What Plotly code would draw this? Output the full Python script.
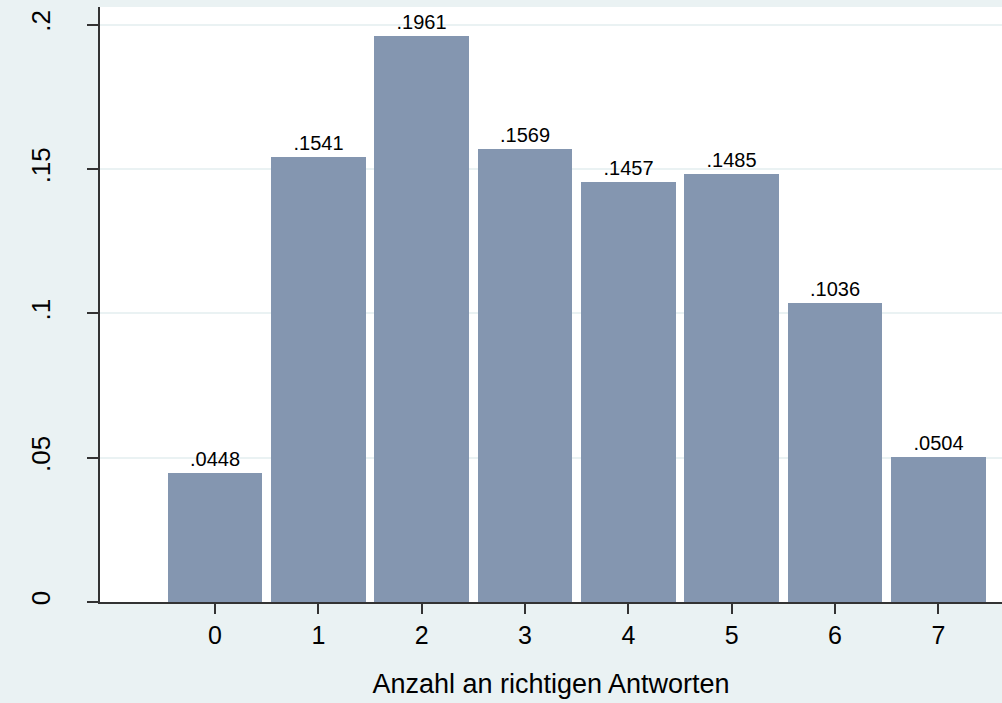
import plotly.graph_objects as go

categories = [0, 1, 2, 3, 4, 5, 6, 7]
values = [0.0448, 0.1541, 0.1961, 0.1569, 0.1457, 0.1485, 0.1036, 0.0504]
y_tickvals = [0, 0.05, 0.1, 0.15, 0.2]
y_ticktext = ["0", ".05", ".1", ".15", ".2"]
x_title = "Anzahl an richtigen Antworten"

labels = [f"{v:.4f}".lstrip("0") for v in values]

BG = "#eaf2f3"
BAR = "#8496b0"
AX = "#333333"
FONT = "Liberation Sans, Arial, sans-serif"

fig = go.Figure(go.Bar(
    x=categories, y=values, width=0.915,
    marker=dict(color=BAR, line=dict(width=0)),
    text=labels, textposition="outside", cliponaxis=False,
    textfont=dict(size=20, color="black", family=FONT),
))

fig.update_layout(
    width=1002, height=703,
    paper_bgcolor=BG, plot_bgcolor="white",
    margin=dict(l=100, r=0, t=7, b=101, autoexpand=False),
    font=dict(family=FONT, color="black"),
    showlegend=False,
    bargap=0,
)
fig.update_xaxes(
    range=[-1.113, 7.616], tickvals=categories,
    ticks="outside", ticklen=10, tickwidth=1.5, tickcolor=AX,
    showline=True, linecolor=AX, linewidth=2,
    showgrid=False, zeroline=False,
    tickfont=dict(size=25),
    title=dict(text=x_title, font=dict(size=27), standoff=26),
)
fig.update_yaxes(
    range=[0, 0.2062], tickvals=y_tickvals, ticktext=y_ticktext,
    tickangle=-90,
    ticks="outside", ticklen=11, tickwidth=1.5, tickcolor=AX,
    showline=True, linecolor=AX, linewidth=2,
    showgrid=True, gridcolor=BG, gridwidth=1.5, zeroline=False,
    tickfont=dict(size=26),
    ticklabelstandoff=27,
)

fig.write_html(
    "out.html",
    config={"displayModeBar": False},
    post_script="document.body.style.margin='0';document.body.style.overflow='hidden';",
)
